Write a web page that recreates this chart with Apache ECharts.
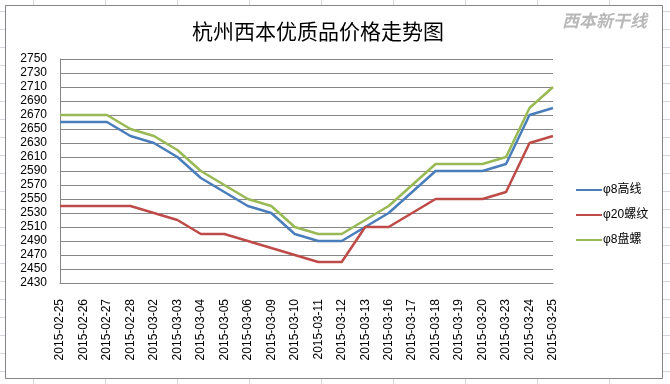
<!DOCTYPE html>
<html><head><meta charset="utf-8">
<script src="https://cdn.jsdelivr.net/npm/echarts@6/dist/echarts.min.js"></script>
<style>html,body{margin:0;padding:0;background:#fff}#c{width:670px;height:384px}</style>
</head><body><div id="c"></div>
<script>
var categories = ['2015-02-25','2015-02-26','2015-02-27','2015-02-28','2015-03-02','2015-03-03','2015-03-04','2015-03-05','2015-03-06','2015-03-09','2015-03-10','2015-03-11','2015-03-12','2015-03-13','2015-03-16','2015-03-17','2015-03-18','2015-03-19','2015-03-20','2015-03-23','2015-03-24','2015-03-25'];
var wireRod = [2660,2660,2660,2640,2630,2610,2580,2560,2540,2530,2500,2490,2490,2510,2530,2560,2590,2590,2590,2600,2670,2680];
var rebar = [2540,2540,2540,2540,2530,2520,2500,2500,2490,2480,2470,2460,2460,2510,2510,2530,2550,2550,2550,2560,2630,2640];
var coil = [2670,2670,2670,2650,2640,2620,2590,2570,2550,2540,2510,2500,2500,2520,2540,2570,2600,2600,2600,2610,2680,2710];
var seriesNames = ['φ8高线','φ20螺纹','φ8盘螺'];
var colors = ['#4a7ebb','#be4b48','#98b954'];

var bg = [];
for (var x = 33; x < 670; x += 72) bg.push({type:'line', shape:{x1:x+0.5,y1:0,x2:x+0.5,y2:384}, style:{stroke:'#d4d8de',lineWidth:1}, z:-10});
for (var y = 11; y < 384; y += 18) bg.push({type:'line', shape:{x1:0,y1:y+0.5,x2:670,y2:y+0.5}, style:{stroke:'#d4d8de',lineWidth:1}, z:-10});
bg.push({type:'rect', shape:{x:5.5,y:5.5,width:657,height:373}, style:{fill:'#fff',stroke:'#868686',lineWidth:1}, z:-5});
bg.push({type:'text', left:562, top:12, style:{text:'西本新干线', fill:'#b8b8b8', font:'italic bold 17px "Noto Sans CJK SC"'}, z:1});

var chart = echarts.init(document.getElementById('c'));
chart.setOption({
  animation:false,
  graphic: bg,
  title:{text:'杭州西本优质品价格走势图', left:313, top:16, textAlign:'center',
    textStyle:{fontFamily:'"Noto Sans CJK SC"', fontSize:21, fontWeight:'normal', color:'#000'}},
  grid:{left:60, right:117, top:59, bottom:101},
  legend:{orient:'vertical', left:571, top:179, itemWidth:26, itemHeight:10, itemGap:13,
    data:seriesNames.map(function(n){return {name:n, icon:'path://M0,4L26,4L26,6L0,6Z'};}),
    textStyle:{fontFamily:'"Liberation Sans","Noto Sans CJK SC"', fontSize:12, color:'#000', padding:[0,0,0,-4]}},
  xAxis:{type:'category', data:categories, boundaryGap:false,
    axisLine:{lineStyle:{color:'#868686'}}, axisTick:{show:false},
    axisLabel:{rotate:90, interval:0, margin:16, color:'#000', fontFamily:'"Liberation Sans"', fontSize:12}},
  yAxis:{type:'value', min:2430, max:2750, interval:20,
    axisLine:{show:true, lineStyle:{color:'#868686'}}, axisTick:{show:false},
    splitLine:{lineStyle:{color:'#868686'}},
    axisLabel:{color:'#000', fontFamily:'"Liberation Sans"', fontSize:12, margin:13,
      formatter:function(v){return String(v);}}},
  series:[
    {name:seriesNames[0], type:'line', data:wireRod, showSymbol:false, lineStyle:{width:2.5,color:colors[0]}, itemStyle:{color:colors[0]}},
    {name:seriesNames[1], type:'line', data:rebar, showSymbol:false, lineStyle:{width:2.5,color:colors[1]}, itemStyle:{color:colors[1]}},
    {name:seriesNames[2], type:'line', data:coil, showSymbol:false, lineStyle:{width:2.5,color:colors[2]}, itemStyle:{color:colors[2]}}
  ]
});
</script></body></html>
